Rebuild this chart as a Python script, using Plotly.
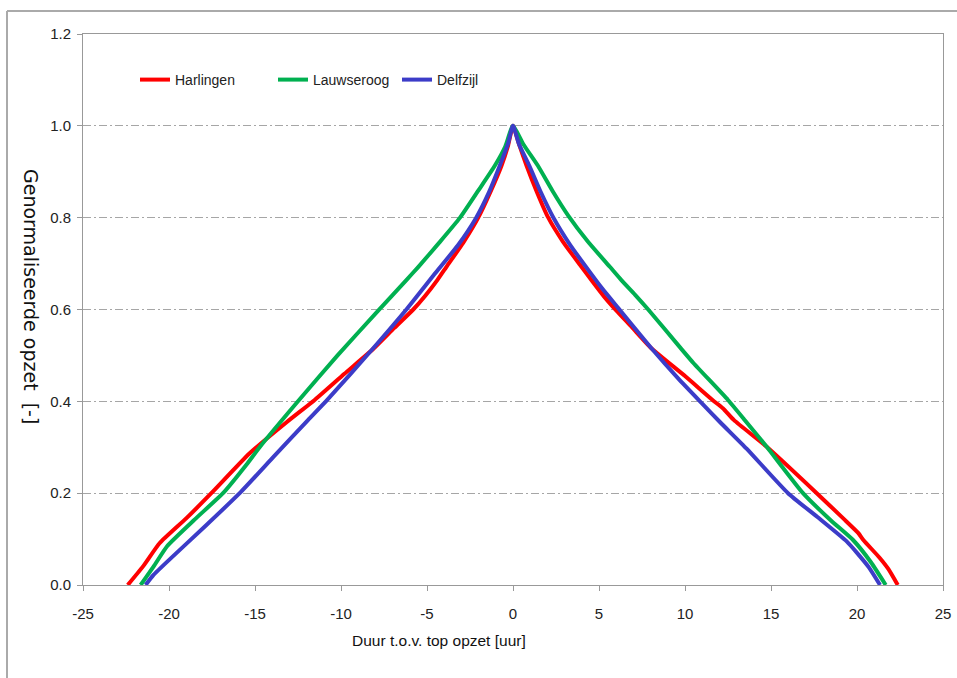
import plotly.graph_objects as go

# ---- data ----
harlingen_x = [-22.40, -21.52, -20.55, -19.00, -17.54, -15.31, -13.18, -11.53, -9.80, -8.10,
               -6.90, -5.80, -5.10, -4.40, -3.87, -2.90, -2.02, -1.30, -0.67, -0.30, 0.00,
               0.35, 0.79, 1.40, 2.05, 2.90, 3.98, 4.60, 5.30, 6.00, 6.90, 8.06, 10.00,
               11.60, 12.20, 12.85, 14.75, 17.66, 19.20, 20.08, 20.37, 21.30, 21.82, 22.37]
harlingen_y = [0.000, 0.040, 0.091, 0.145, 0.200, 0.287, 0.354, 0.403, 0.460, 0.515,
               0.560, 0.600, 0.630, 0.664, 0.693, 0.745, 0.800, 0.857, 0.913, 0.955, 1.000,
               0.960, 0.913, 0.855, 0.800, 0.748, 0.693, 0.662, 0.628, 0.598, 0.562, 0.515, 0.455,
               0.403, 0.385, 0.359, 0.301, 0.200, 0.145, 0.113, 0.098, 0.060, 0.035, 0.000]

lauwseroog_x = [-21.65, -20.90, -20.10, -18.50, -16.86, -15.50, -14.73, -12.50, -10.20, -7.85,
                -6.20, -5.50, -4.30, -3.08, -2.00, -1.06, -0.45, 0.00,
                0.60, 1.45, 2.30, 3.20, 4.35, 5.63, 6.30, 7.10, 7.86, 9.70, 10.50,
                12.50, 13.48, 14.75, 16.86, 18.50, 19.77, 20.80, 21.67]
lauwseroog_y = [0.000, 0.040, 0.085, 0.143, 0.200, 0.262, 0.300, 0.400, 0.500, 0.597,
                0.664, 0.693, 0.745, 0.800, 0.860, 0.913, 0.955, 1.000,
                0.960, 0.913, 0.858, 0.805, 0.748, 0.693, 0.664, 0.632, 0.600, 0.518, 0.483,
                0.403, 0.359, 0.301, 0.200, 0.140, 0.098, 0.050, 0.000]

delfzijl_x = [-21.36, -20.90, -19.90, -17.90, -15.89, -13.90, -11.92, -10.80, -8.14, -6.20,
              -4.50, -3.20, -2.14, -1.40, -0.77, -0.30, 0.00,
              0.35, 0.95, 1.60, 2.35, 3.30, 4.30, 5.20, 6.12, 8.06, 9.60,
              11.00, 12.03, 13.58, 15.99, 17.70, 19.40, 20.00, 20.70, 21.34]
delfzijl_y = [0.000, 0.022, 0.058, 0.128, 0.200, 0.280, 0.359, 0.403, 0.515, 0.600,
              0.680, 0.740, 0.800, 0.855, 0.913, 0.960, 1.000,
              0.960, 0.913, 0.857, 0.800, 0.742, 0.690, 0.645, 0.603, 0.515, 0.450,
              0.395, 0.355, 0.297, 0.200, 0.148, 0.095, 0.070, 0.038, 0.000]

series_names = ["Harlingen", "Lauwseroog", "Delfzijl"]
series_colors = ["#ff0000", "#00b050", "#3c3cc8"]

x_ticks = [-25, -20, -15, -10, -5, 0, 5, 10, 15, 20, 25]
y_ticks = [0.0, 0.2, 0.4, 0.6, 0.8, 1.0, 1.2]
x_title = "Duur t.o.v. top opzet [uur]"
y_title = "Genormaliseerde opzet\u00a0\u00a0[-]"

SANS = "Liberation Sans, Arial, sans-serif"

fig = go.Figure()
data = [(harlingen_x, harlingen_y), (lauwseroog_x, lauwseroog_y), (delfzijl_x, delfzijl_y)]
legend_ids = ["legend", "legend2", "legend3"]
for (xs, ys), name, col, lid in zip(data, series_names, series_colors, legend_ids):
    fig.add_trace(go.Scatter(x=xs, y=ys, mode="lines", name=name,
                             line=dict(color=col, width=4, shape="spline", smoothing=0.5),
                             legend=lid))

# plot area in pixels: x 83..943, y 34..585
L, R, T, B = 83, 943, 34, 585
W, H = 957, 678
def px_to_paper_x(px):
    return (px - L) / (R - L)
def py_to_paper_y(py):
    return (B - py) / (B - T)

legend_common = dict(orientation="h", yanchor="middle", xanchor="left",
                     bgcolor="rgba(0,0,0,0)", borderwidth=0,
                     font=dict(family=SANS, size=14, color="#222222"))
legend_px = [135, 273, 397]
layout_legends = {}
for lid, lx in zip(legend_ids, legend_px):
    layout_legends[lid] = dict(legend_common, x=px_to_paper_x(lx), y=py_to_paper_y(80))

fig.update_layout(
    width=W, height=H,
    margin=dict(l=L, r=W - R, t=T, b=H - B),
    paper_bgcolor="white", plot_bgcolor="white",
    showlegend=True,
    **layout_legends,
    xaxis=dict(range=[-25, 25], tickvals=x_ticks, ticktext=[str(v) for v in x_ticks],
               automargin=False, showgrid=False, zeroline=False,
               showline=True, linecolor="#999999", linewidth=1, mirror=True,
               ticks="outside", ticklen=5, tickcolor="#999999",
               tickfont=dict(family=SANS, size=15, color="#222222"),
               ticklabelstandoff=10),
    yaxis=dict(range=[0, 1.2], tickvals=y_ticks, ticktext=[f"{v:.1f}" for v in y_ticks],
               automargin=False,
               showgrid=True, gridcolor="#a6a6a6", gridwidth=1, griddash="8px,3px,2px,3px",
               zeroline=False,
               showline=True, linecolor="#999999", linewidth=1, mirror=True,
               ticks="outside", ticklen=5, tickcolor="#999999",
               tickfont=dict(family=SANS, size=15, color="#222222"),
               ticklabelstandoff=3),
)

fig.add_annotation(text=x_title, xref="paper", yref="paper",
                   x=px_to_paper_x(439), y=py_to_paper_y(640),
                   xanchor="center", yanchor="middle", showarrow=False,
                   font=dict(family=SANS, size=15.5, color="#111111"))
fig.add_annotation(text=y_title, xref="paper", yref="paper",
                   x=px_to_paper_x(31), y=py_to_paper_y(296),
                   xanchor="center", yanchor="middle", showarrow=False, textangle=90,
                   font=dict(family="DejaVu Sans, Verdana, sans-serif", size=19, color="#111111"))

# outer chart border (extends past the right and bottom edges of the picture)
fig.add_shape(type="line", xref="paper", yref="paper",
              x0=px_to_paper_x(7), x1=px_to_paper_x(7),
              y0=py_to_paper_y(11), y1=py_to_paper_y(700),
              line=dict(color="#aaaaaa", width=2))
fig.add_shape(type="line", xref="paper", yref="paper",
              x0=px_to_paper_x(7), x1=px_to_paper_x(980),
              y0=py_to_paper_y(11), y1=py_to_paper_y(11),
              line=dict(color="#aaaaaa", width=2))

fig.write_html("out.html", config={"displayModeBar": False},
               post_script="document.body.style.margin='0px';")
